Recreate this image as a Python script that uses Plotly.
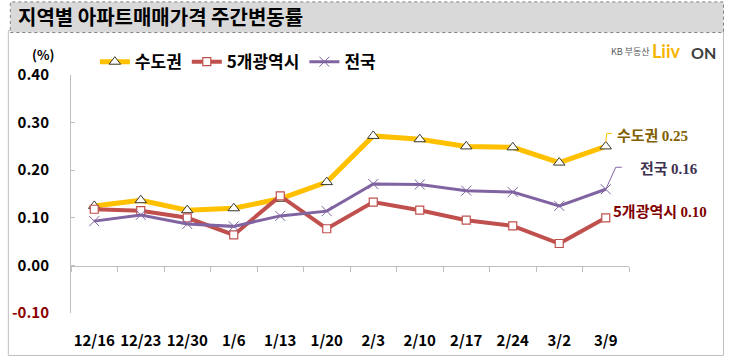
import plotly.graph_objects as go

# ---------------- data ----------------
dates = ["12/16", "12/23", "12/30", "1/6", "1/13", "1/20", "2/3", "2/10", "2/17", "2/24", "3/2", "3/9"]
sudo = [0.125, 0.137, 0.116, 0.120, 0.140, 0.175, 0.272, 0.265, 0.250, 0.248, 0.216, 0.25]
metro5 = [0.118, 0.115, 0.100, 0.064, 0.146, 0.077, 0.133, 0.116, 0.095, 0.083, 0.046, 0.10]
nation = [0.093, 0.106, 0.087, 0.082, 0.104, 0.114, 0.171, 0.170, 0.157, 0.154, 0.125, 0.16]
series_names = ["수도권", "5개광역시", "전국"]
y_ticks = [-0.10, 0.00, 0.10, 0.20, 0.30, 0.40]
title_text = "지역별 아파트매매가격 주간변동률"

# ---------------- layout geometry ----------------
W, H = 729, 362
L, R, T, B = 68, 100, 75, 46
PW, PH = W - L - R, H - T - B
KFONT = "Noto Sans CJK KR"


def px(x):
    return (x - L) / PW


def py(y):
    return (H - B - y) / PH


YEL, RED, PUR = "#FFC000", "#C0504D", "#8064A2"

fig = go.Figure()
fig.add_trace(go.Scatter(
    x=dates, y=sudo, name=series_names[0], mode="lines+markers",
    line=dict(color=YEL, width=5),
    marker=dict(symbol="triangle-up", size=10, color="#FFFFFF", line=dict(color="#3A3A2A", width=1)),
))
fig.add_trace(go.Scatter(
    x=dates, y=metro5, name=series_names[1], mode="lines+markers",
    line=dict(color=RED, width=4),
    marker=dict(symbol="square", size=8, color="#FFFFFF", line=dict(color=RED, width=1.2)),
))
fig.add_trace(go.Scatter(
    x=dates, y=nation, name=series_names[2], mode="lines+markers",
    line=dict(color=PUR, width=3),
    marker=dict(symbol="x-thin", size=10, color=PUR, line=dict(color=PUR, width=1)),
))
# dummy trace for the zero-line axis with boundary ticks
fig.add_trace(go.Scatter(x=dates, y=[None] * len(dates), xaxis="x2", showlegend=False,
                         hoverinfo="skip", mode="lines"))

tick_text = []
for v in y_ticks:
    s = f"{v:.2f}"
    if v < 0:
        s = f"<span style='color:#8B0000'>{s}</span>"
    tick_text.append(s)

fig.update_layout(
    width=W, height=H,
    margin=dict(l=L, r=R, t=T, b=B, pad=0),
    paper_bgcolor="white", plot_bgcolor="white",
    font=dict(family=KFONT, color="black"),
    showlegend=True,
    legend=dict(orientation="h", x=px(92), y=py(62), xanchor="left", yanchor="middle",
                font=dict(size=17, family=KFONT, weight="bold"), bgcolor="rgba(0,0,0,0)",
                itemwidth=30, tracegroupgap=0),
    xaxis=dict(type="category", range=[-0.5, len(dates) - 0.5], showline=False, showgrid=False,
               zeroline=False, ticks="", showticklabels=True, ticklabelstandoff=17,
               tickfont=dict(size=15, family=KFONT, weight="bold", color="black")),
    xaxis2=dict(type="category", overlaying="x", anchor="free", position=py(268),
                range=[-0.5, len(dates) - 0.5], showline=True, linecolor="#BFBFBF", linewidth=1,
                ticks="outside", ticklen=5, tickcolor="#BFBFBF", tickson="boundaries",
                showticklabels=False, showgrid=False, zeroline=False),
    yaxis=dict(range=[-0.10, 0.40], tickvals=y_ticks, ticktext=tick_text, showgrid=False,
               zeroline=False, showline=True, linecolor="#BFBFBF", linewidth=1,
               ticks="inside", ticklen=4, tickcolor="#BFBFBF", ticklabelstandoff=18,
               tickfont=dict(size=15, family=KFONT, weight="bold", color="black")),
)

shapes = []
# chart box border
shapes.append(dict(type="rect", xref="paper", yref="paper", x0=px(5), x1=px(724), y0=py(359), y1=py(30),
                   line=dict(color="#BFBFBF", width=1), fillcolor="rgba(0,0,0,0)", layer="below"))
# title bar
shapes.append(dict(type="rect", xref="paper", yref="paper", x0=px(7), x1=px(724), y0=py(32), y1=py(1),
                   line=dict(color="#808080", width=1, dash="dot"), fillcolor="#D9D9D9", layer="above"))
# leader lines (anchored to last data points, pixel offsets)
last = len(dates) - 1
shapes.append(dict(type="path", xref="x", yref="y", xsizemode="pixel", ysizemode="pixel",
                   xanchor=last, yanchor=sudo[last], path="M0,4 L1,13 L6,13",
                   line=dict(color=YEL, width=1)))
shapes.append(dict(type="path", xref="x", yref="y", xsizemode="pixel", ysizemode="pixel",
                   xanchor=last, yanchor=nation[last], path="M0,0 L10,22 L16,22",
                   line=dict(color=PUR, width=1)))
fig.update_layout(shapes=shapes)

ann = []
ann.append(dict(text=title_text, xref="paper", yref="paper", x=px(13), y=py(16), xanchor="left",
                yanchor="middle", showarrow=False,
                font=dict(size=20, family=KFONT, weight="bold", color="black")))
ann.append(dict(text="(%)", xref="paper", yref="paper", x=px(40), y=py(54), xanchor="center",
                yanchor="middle", showarrow=False,
                font=dict(size=13, family=KFONT, weight="bold", color="black")))
# logo
ann.append(dict(text="KB 부동산", xref="paper", yref="paper", x=px(609), y=py(51), xanchor="left",
                yanchor="middle", showarrow=False, font=dict(size=9, family=KFONT, color="#595959")))
ann.append(dict(text="Liiv", xref="paper", yref="paper", x=px(650), y=py(51), xanchor="left",
                yanchor="middle", showarrow=False,
                font=dict(size=18, family="Lato", weight="bold", color="#F5B400")))
ann.append(dict(text="ON", xref="paper", yref="paper", x=px(689), y=py(52), xanchor="left",
                yanchor="middle", showarrow=False,
                font=dict(size=16, family="Lato", weight="bold", color="#404040")))
# end labels
NUMF = "Liberation Serif"


def end_label(name, val):
    return (f"<span style='font-family:\"{KFONT}\"'>{name}</span> "
            f"<span style='font-family:\"{NUMF}\"'>{val:.2f}</span>")


ann.append(dict(text=end_label(series_names[0], sudo[last]), x=last, y=sudo[last],
                xref="x", yref="y", xanchor="left", yanchor="middle", xshift=9, yshift=12,
                showarrow=False, font=dict(size=15, weight="bold", color="#7F6000")))
ann.append(dict(text=end_label(series_names[2], nation[last]), x=last, y=nation[last],
                xref="x", yref="y", xanchor="left", yanchor="middle", xshift=32, yshift=22,
                showarrow=False, font=dict(size=15, weight="bold", color="#3F3151")))
ann.append(dict(text=end_label(series_names[1], metro5[last]), x=last, y=metro5[last],
                xref="x", yref="y", xanchor="left", yanchor="middle", xshift=5, yshift=7,
                showarrow=False, font=dict(size=15, weight="bold", color="#7F0000")))
fig.update_layout(annotations=ann)

fig.write_html("out.html", config={"displayModeBar": False},
               post_script="document.body.style.margin='0';document.body.style.padding='0';")
